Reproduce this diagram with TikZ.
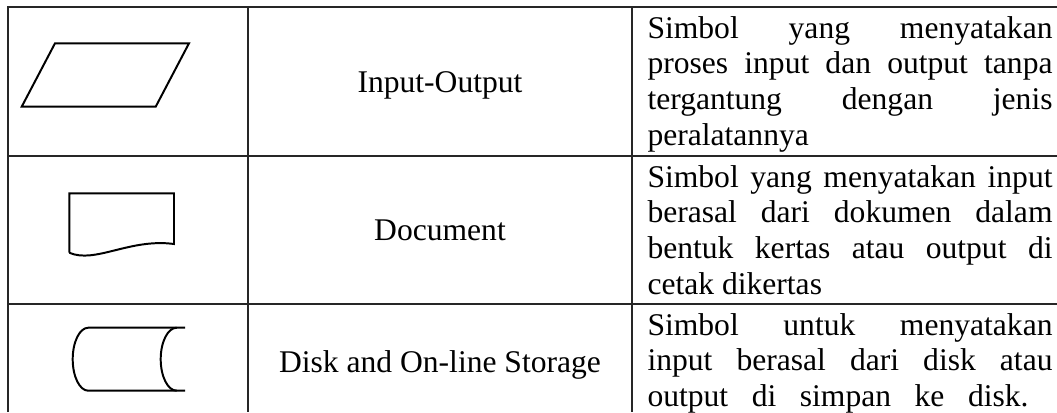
\documentclass[tikz,border=0pt]{standalone}
\usepackage{fontspec}
\setmainfont{Liberation Serif}
\usetikzlibrary{positioning}

\begin{document}
\begin{tikzpicture}[x=0.38pt, y=-0.38pt, font=\fontsize{12}{13.6}\selectfont,
      grid/.style={line width=0.5pt, draw=black!85},
      sym/.style={line width=0.75pt, line join=miter},
      lbl/.style={anchor=base, align=center, inner sep=0pt},
      desc/.style={anchor=base west, text width=153.9pt, align=justify, inner sep=0pt,
                   execute at begin node={\tolerance=10000\hbadness=10000}}]
    \useasboundingbox (0,0) rectangle (1057,412);
    \draw[grid] (8,412) -- (8,7) -- (1057,7);
    \draw[grid] (248,7) -- (248,412);
    \draw[grid] (632,7) -- (632,412);
    \draw[grid] (8,156) -- (1057,156);
    \draw[grid] (8,304) -- (1057,304);
    \draw[sym] (55,43.3) -- (189,43.3) -- (155.7,106.7) -- (21.7,106.7) -- cycle;
    \draw[sym] (69.3,252.7) -- (69.3,193.3) -- (174,193.3) -- (174,244)
               .. controls (130,238) and (95,264) .. (69.3,252.7);
    \draw[sym] (185,327.7) -- (88.3,327.7) arc[start angle=270, end angle=90, x radius=15.6, y radius=31.5] -- (185,390.7);
    \draw[sym] (176.7,327.7) arc[start angle=270, end angle=90, x radius=16, y radius=31.5];
    \node[lbl] (io) at (440,92) {Input-Output};
    \node[lbl] (doc) at (440,240) {Document};
    \node[lbl] (disk) at (440,372) {Disk and On-line Storage};
    \node[desc] (io-txt) at (647,38) {Simbol yang menyatakan\linebreak proses input dan output tanpa\linebreak tergantung dengan jenis\linebreak peralatannya};
    \node[desc] (doc-txt) at (647,187) {Simbol yang menyatakan input\linebreak berasal dari dokumen dalam\linebreak bentuk kertas atau output di\linebreak cetak dikertas};
    \node[desc] (disk-txt) at (647,335) {Simbol untuk menyatakan\linebreak input berasal dari disk atau\linebreak \makebox[144.8pt][s]{output di simpan ke disk.}};
  \end{tikzpicture}
\end{document}
